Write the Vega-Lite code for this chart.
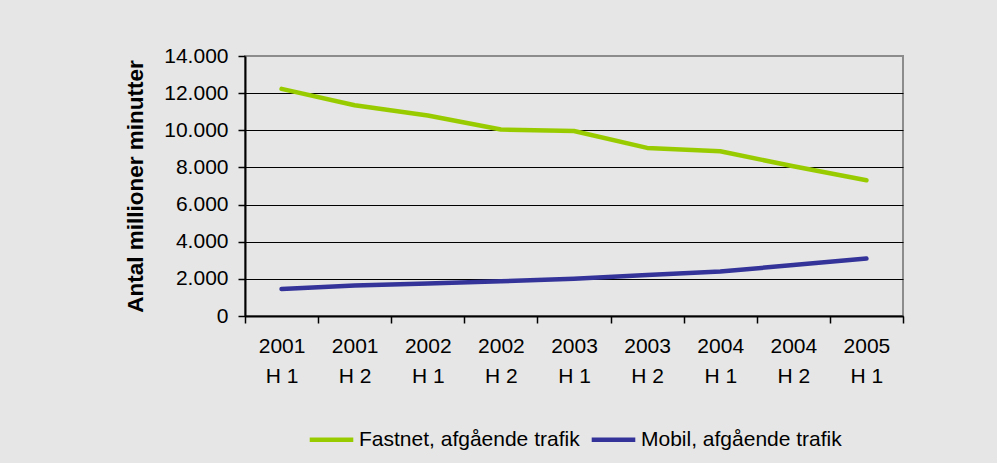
{
  "$schema": "https://vega.github.io/schema/vega-lite/v6.json",
  "width": 658,
  "height": 260,
  "autosize": {"type": "none"},
  "padding": {"left": 245, "top": 56, "right": 94, "bottom": 147},
  "background": "#e6e6e6",
  "data": {
    "values": [
      {"period": "2001 H 1", "series": "Fastnet, afgående trafik", "value": 12230},
      {"period": "2001 H 2", "series": "Fastnet, afgående trafik", "value": 11350},
      {"period": "2002 H 1", "series": "Fastnet, afgående trafik", "value": 10800},
      {"period": "2002 H 2", "series": "Fastnet, afgående trafik", "value": 10040},
      {"period": "2003 H 1", "series": "Fastnet, afgående trafik", "value": 9960},
      {"period": "2003 H 2", "series": "Fastnet, afgående trafik", "value": 9050},
      {"period": "2004 H 1", "series": "Fastnet, afgående trafik", "value": 8870},
      {"period": "2004 H 2", "series": "Fastnet, afgående trafik", "value": 8060},
      {"period": "2005 H 1", "series": "Fastnet, afgående trafik", "value": 7310},
      {"period": "2001 H 1", "series": "Mobil, afgående trafik", "value": 1450},
      {"period": "2001 H 2", "series": "Mobil, afgående trafik", "value": 1640},
      {"period": "2002 H 1", "series": "Mobil, afgående trafik", "value": 1745},
      {"period": "2002 H 2", "series": "Mobil, afgående trafik", "value": 1870},
      {"period": "2003 H 1", "series": "Mobil, afgående trafik", "value": 2010},
      {"period": "2003 H 2", "series": "Mobil, afgående trafik", "value": 2210},
      {"period": "2004 H 1", "series": "Mobil, afgående trafik", "value": 2390},
      {"period": "2004 H 2", "series": "Mobil, afgående trafik", "value": 2745},
      {"period": "2005 H 1", "series": "Mobil, afgående trafik", "value": 3090}
    ]
  },
  "mark": {"type": "line", "strokeWidth": 4.5, "strokeCap": "round", "strokeJoin": "round"},
  "encoding": {
    "x": {
      "field": "period",
      "type": "nominal",
      "sort": ["2001 H 1", "2001 H 2", "2002 H 1", "2002 H 2", "2003 H 1", "2003 H 2", "2004 H 1", "2004 H 2", "2005 H 1"],
      "scale": {"type": "band", "paddingInner": 0, "paddingOuter": 0},
      "axis": {
        "title": null,
        "labelAngle": 0,
        "tickBand": "extent",
        "grid": false,
        "domainColor": "black",
        "domainWidth": 2,
        "tickColor": "black",
        "tickWidth": 1.5,
        "tickSize": 7,
        "labelFont": "Liberation Sans",
        "labelFontSize": 21,
        "labelColor": "black",
        "labelPadding": 12,
        "labelLineHeight": 30,
        "labelExpr": "[slice(datum.label, 0, 4), slice(datum.label, 5)]"
      }
    },
    "y": {
      "field": "value",
      "type": "quantitative",
      "scale": {"domain": [0, 14000], "nice": false},
      "axis": {
        "values": [0, 2000, 4000, 6000, 8000, 10000, 12000, 14000],
        "grid": true,
        "gridColor": {"condition": {"test": "datum.value === 14000", "value": "#8c8c8c"}, "value": "black"},
        "gridWidth": 1,
        "domainColor": "black",
        "domainWidth": 2,
        "tickColor": "black",
        "tickWidth": 1.5,
        "tickSize": 7,
        "labelFont": "Liberation Sans",
        "labelFontSize": 21,
        "labelColor": "black",
        "labelPadding": 10,
        "labelExpr": "replace(format(datum.value, ','), ',', '.')",
        "title": "Antal millioner minutter",
        "titleFont": "Liberation Sans",
        "titleFontSize": 22.5,
        "titleFontWeight": "bold",
        "titleColor": "black",
        "titlePadding": 16
      }
    },
    "color": {
      "field": "series",
      "type": "nominal",
      "scale": {"domain": ["Fastnet, afgående trafik", "Mobil, afgående trafik"], "range": ["#99cc00", "#333399"]},
      "legend": {
        "title": null,
        "orient": "bottom",
        "direction": "horizontal",
        "symbolType": "stroke",
        "symbolStrokeWidth": 4.5,
        "symbolSize": 1900,
        "labelFont": "Liberation Sans",
        "labelFontSize": 21,
        "labelColor": "black",
        "labelLimit": 400,
        "labelOffset": 3,
        "columnPadding": 2,
        "offset": 29
      }
    }
  },
  "config": {
    "view": {"stroke": "#8c8c8c", "strokeWidth": 2},
    "font": "Liberation Sans",
    "legend": {"layout": {"bottom": {"anchor": "middle"}}}
  }
}
